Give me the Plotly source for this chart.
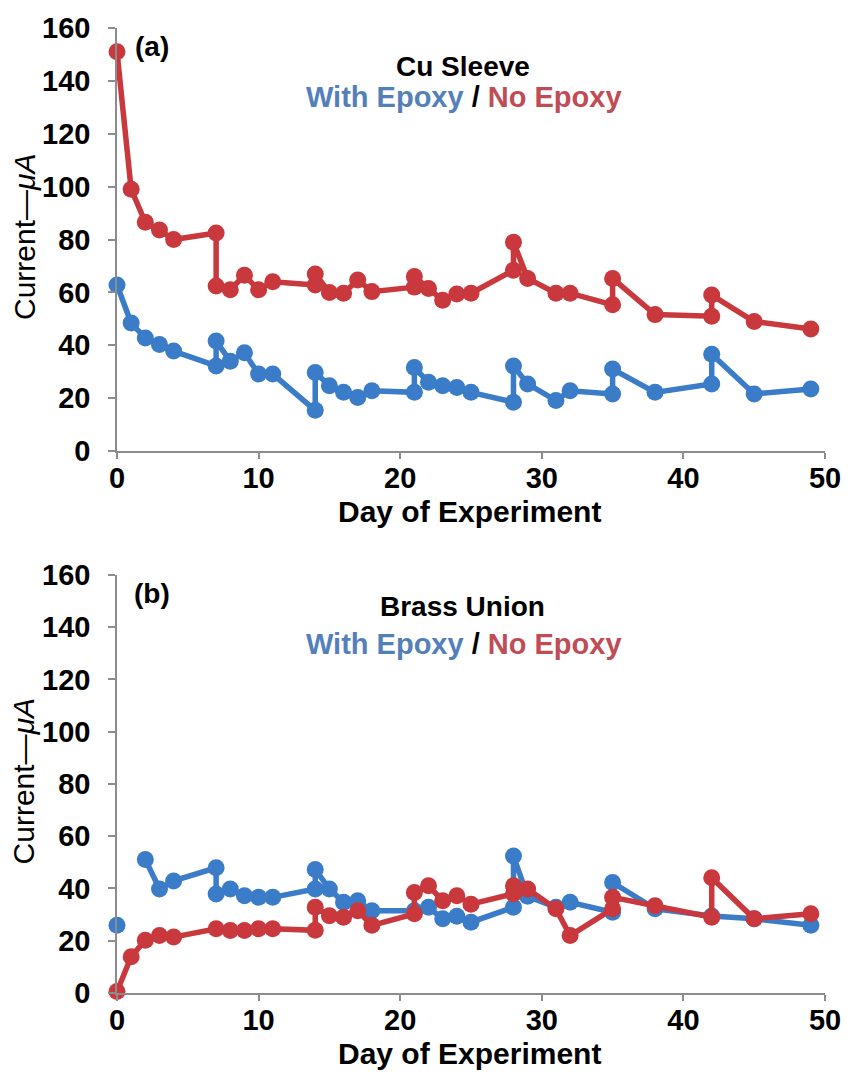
import plotly.graph_objects as go

# ---------------- data ----------------
days_blue_a = [0, 1, 2, 3, 4, 7, 7, 8, 9, 10, 11, 14, 14, 15, 16, 17, 18, 21, 21, 22, 23, 24, 25,
               28, 28, 29, 31, 32, 35, 35, 38, 42, 42, 45, 49]
vals_blue_a = [62.8, 48.4, 42.8, 40.3, 37.8, 32.2, 41.6, 34, 37.2, 29.1, 29.1, 15.4, 29.7, 24.7, 22.2,
               20.3, 22.8, 22.2, 31.6, 26, 24.7, 24, 22.2, 18.5, 32.2, 25.4, 19.1, 22.8, 21.6, 31, 22.2,
               25.4, 36.6, 21.6, 23.5]
days_red_a = [0, 1, 2, 3, 4, 7, 7, 8, 9, 10, 11, 14, 14, 15, 16, 17, 18, 21, 21, 22, 23, 24, 25,
              28, 28, 29, 31, 32, 35, 35, 38, 42, 42, 45, 49]
vals_red_a = [151, 99, 86.5, 83.6, 80, 82.5, 62.4, 61, 66.5, 61, 64, 62.8, 67, 60, 59.7, 64.7, 60.3,
              62, 66, 61.5, 57, 59.4, 59.7, 68.4, 79, 65.3, 59.7, 59.7, 55.3, 65.3, 51.6, 51, 59, 49, 46.2]

days_blue_b = [0, 1, 2, 3, 4, 7, 7, 8, 9, 10, 11, 14, 14, 15, 16, 17, 18, 21, 22, 23, 24, 25,
               28, 28, 29, 31, 32, 35, 35, 38, 42, 45, 49]
vals_blue_b = [25.9, None, 51.1, 39.8, 42.9, 47.9, 37.9, 39.8, 37.2, 36.6, 36.6, 39.8, 47.3, 39.8, 34.7,
               35.3, 31.5, 31.5, 32.8, 28.4, 29.4, 27.1, 32.8, 52.4, 37, 32.8, 34.7, 30.9, 42.3, 32.2,
               29.5, 28.4, 25.9]
days_red_b = [0, 1, 2, 3, 4, 7, 8, 9, 10, 11, 14, 14, 15, 16, 17, 18, 21, 21, 22, 23, 24, 25,
              28, 28, 29, 31, 32, 35, 35, 38, 42, 42, 45, 49]
vals_red_b = [0.6, 13.9, 20.2, 22, 21.4, 24.6, 23.9, 23.9, 24.6, 24.6, 24, 32.8, 29.6, 29, 31.5, 25.9,
              30.3, 38.5, 41, 35.3, 37.2, 34, 38, 41, 39.8, 32.2, 22, 32.2, 36.6, 33.4, 29, 44.1, 28.4, 30.3]

panel_labels = ["(a)", "(b)"]
panel_titles = ["Cu Sleeve", "Brass Union"]
x_ticks = [0, 10, 20, 30, 40, 50]
y_ticks = [0, 20, 40, 60, 80, 100, 120, 140, 160]

# ---------------- style ----------------
W, H = 853, 1076
ML, MR, MT, MB = 117, 17, 19, 83
PW, PH = W - ML - MR, H - MT - MB
BLUE = "rgb(58,124,200)"
RED = "rgb(200,56,60)"
BLUE_TXT = "rgb(84,128,186)"
RED_TXT = "rgb(192,76,86)"
AX = "#8c8c8c"
FONT = "Liberation Sans, Arial, sans-serif"


def px2x(px):
    return (px - ML) / PW


def py2y(py):
    return (H - MB - py) / PH


top_dom = [py2y(446), py2y(19)]
bot_dom = [py2y(993), py2y(571)]

fig = go.Figure()
series = [
    (days_blue_a, vals_blue_a, BLUE, "x", "y"),
    (days_red_a, vals_red_a, RED, "x", "y"),
    (days_blue_b, vals_blue_b, BLUE, "x2", "y2"),
    (days_red_b, vals_red_b, RED, "x2", "y2"),
]
for xs, ys, col, xa, ya in series:
    fig.add_trace(go.Scatter(
        x=xs, y=ys, mode="lines+markers", xaxis=xa, yaxis=ya,
        line=dict(color=col, width=5.5), marker=dict(color=col, size=17),
        cliponaxis=False, showlegend=False, connectgaps=False))

TICKFONT = dict(family=FONT, size=29, color="black", weight="bold")
xcommon = dict(range=[0, 50], tickvals=x_ticks, ticks="outside", ticklen=6, tickwidth=1.5,
               tickcolor=AX, showline=True, linecolor=AX, linewidth=1.5, showgrid=False,
               zeroline=False, ticklabelstandoff=-6, tickfont=TICKFONT)
ycommon = dict(range=[0, 160], tickvals=y_ticks, ticks="outside", ticklen=7, tickwidth=1.5,
               tickcolor=AX, showline=True, linecolor=AX, linewidth=1.5, showgrid=False,
               zeroline=False, ticklabelstandoff=12, tickfont=TICKFONT)

fig.update_layout(
    width=W, height=H, margin=dict(l=ML, r=MR, t=MT, b=MB),
    paper_bgcolor="white", plot_bgcolor="white",
    xaxis=dict(domain=[0, 1], anchor="y", **xcommon),
    yaxis=dict(domain=top_dom, anchor="x", **ycommon),
    xaxis2=dict(domain=[0, 1], anchor="y2", **xcommon),
    yaxis2=dict(domain=bot_dom, anchor="x2", **ycommon),
)

anns = []
common = dict(xref="paper", yref="paper", showarrow=False, xanchor="center", yanchor="middle")
for i, (top_px, bot_px) in enumerate([(19, 446), (571, 993)]):
    anns.append(dict(text="<b>%s</b>" % panel_labels[i], x=px2x(153), y=py2y(top_px + 19),
                     font=dict(family=FONT, size=28, color="black"), **common))
    anns.append(dict(text="<b>%s</b>" % panel_titles[i], x=px2x(468),
                     y=py2y(top_px + (39 if i == 0 else 32)),
                     font=dict(family=FONT, size=28, color="black"), **common))
    anns.append(dict(text="<b><span style='color:%s'>With Epoxy</span> / <span style='color:%s'>No Epoxy</span></b>"
                     % (BLUE_TXT, RED_TXT),
                     x=px2x(469), y=py2y(top_px + 70),
                     font=dict(family=FONT, size=29, color="black"), **common))
    anns.append(dict(text="<b>Day of Experiment</b>", x=px2x(475), y=py2y(bot_px + 61),
                     font=dict(family=FONT, size=30, color="black"), **common))
    anns.append(dict(text="Current—<i>μA</i>", x=px2x(23), y=py2y((top_px + bot_px) / 2 - 3),
                     textangle=-90, font=dict(family=FONT, size=30, color="black"), **common))
fig.update_layout(annotations=anns)

fig.write_html("out.html")
